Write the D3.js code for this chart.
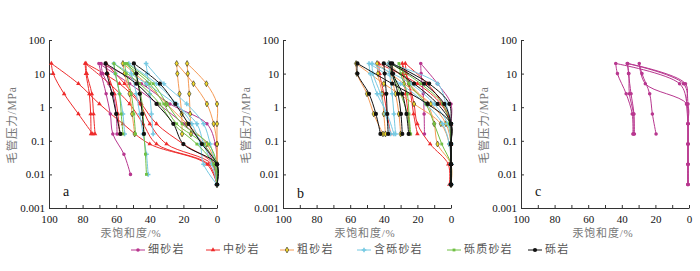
<!DOCTYPE html>
<html>
<head>
<meta charset="utf-8">
<script src="https://cdn.jsdelivr.net/npm/d3@7"></script>
<style>
  body { margin: 0; background: #fff; }
  svg text { font-family: "Liberation Serif", "DejaVu Serif", "Noto Sans CJK SC", serif; }
</style>
</head>
<body>
<svg id="chart" width="700" height="271"></svg>
<script>
// rock types in legend order, with their colours
const rockTypes = ["细砂岩", "中砂岩", "粗砂岩", "含砾砂岩", "砾质砂岩", "砾岩"];
const rockColors = ["#b8378f", "#ee2b2b", "#f59a55", "#76c9e2", "#70c044", "#111111"];

// pressure steps (MPa) of the injection and the withdrawal curves
const injP = [20, 5, 1.25, 0.32, 0.08, 0.02, 0.005];
const wdP = [20, 10, 2.5, 0.63, 0.16, 0.08, 0.04, 0.02, 0.01];

const yTicks = [100, 10, 1, 0.1, 0.01, 0.001];
const xTicks = [100, 80, 60, 40, 20, 0];
const panelNames = ["a", "b", "c"];

// each sample: rock, saturation % at injP, saturation % at wdP (null = no point)
const panelA = [
    ["中砂岩", [98.6, 82.5, 70, 56, 40, 6, 0], [98.6, 97.5, 91, 82.5, 74]],
    ["中砂岩", [78.5, 64, 52, 44, 36, 5, 0], [78.5, 78, 76, 75.2, 75]],
    ["中砂岩", [78, 58, 46, 40, 30, 3, 0], [78, 77.5, 74.5, 73.5, 72.6]],
    ["中砂岩", [66, 55, 45, 36, 20, 2, 0], [66, 65, 61, 59, 58]],
    ["细砂岩", [70.3, 52, 35, 20, 8, 2, 0], [70.3, 69, 66, 63.5, 62, null, 55.4, null, 51.5]],
    ["细砂岩", [69, 45, 28, 6, 1, 0, 0], [69, 68, 62, 60, 59.5]],
    ["粗砂岩", [24, 14, 6, 2, 0, 0, 0], [24, 23.6, 22.3, 21, 20.8]],
    ["粗砂岩", [17.8, 6.3, 0, 0, 0, 0, 0], [17.8, 17.4, 16.5, 16, 15.5]],
    ["粗砂岩", [56, 42, 30, 18, 6, 1, 0], [56, 55, 52, 50.5, 49]],
    ["含砾砂岩", [42.2, 31.6, 18, 8, 4, 1, 0], [42.2, 41.5, 40, 39, 38]],
    ["含砾砂岩", [61.4, 42, 25, 12, 8, 3, 0], [61.4, 60.5, 58, 56, 55]],
    ["含砾砂岩", [52.5, 36, 24, 15, 10, 8, 0], [52.5, 51, 48, 46, 44, null, 42, null, 41]],
    ["砾质砂岩", [61.4, 46, 34, 26, 12, 2, 0], [61.4, 60.5, 58, 57, 56]],
    ["砾质砂岩", [55, 40, 31.7, 24, 8, 1, 0], [55, 54, 51, 49.5, 48.5]],
    ["砾质砂岩", [53.5, 38, 29.7, 20.8, 5, 0, 0], [53.5, 49, 45.5, 44, 43.5, null, 42.6, null, 42]],
    ["砾岩", [66.3, 48, 36, 26, 20, 0, 0], [66.3, 65.5, 62.5, 60, 57.5]],
    ["砾岩", [49.5, 34, 24.8, 17, 9, 0, 0], [49.5, 48, 46, 44.5, 43.5]]
];

const panelB = [
    ["中砂岩", [27.2, 14, 5, 0, 0, 0, 0], [27.2, 26.5, 24, 22.3, 20]],
    ["中砂岩", [29, 25, 22, 20, 12.4, 1.6, 1.0], [29, 28.5, 27, 25.5, 24.5]],
    ["中砂岩", [43, 20, 6, 0, 0, 0, 0], [43, 42.5, 40, 38, 36]],
    ["细砂岩", [18, 8, 0, 0, 0, 0, 0], [18, 17.8, 16.5, 16, 15.8]],
    ["粗砂岩", [56.5, 40, 22, 6, 1, 0, 0], [56.5, 56, 50, 46, 40.5]],
    ["粗砂岩", [44, 28, 12, 3, 0, 0, 0], [44, 43.5, 41, 40, 39]],
    ["粗砂岩", [37, 25, 14, 10, 8, 0, 0], [37, 36, 33, 31, 30]],
    ["含砾砂岩", [48.8, 30, 15, 5, 1, 0, 0], [48.8, 48, 44, 38, 34]],
    ["含砾砂岩", [47, 24, 10, 2, 0, 0, 0], [47, 46.5, 42, 39, 36]],
    ["含砾砂岩", [37, 8, 3, 0, 0, 0, 0], [37, 36.5, 35, 34, 33]],
    ["砾质砂岩", [36, 18, 5, 1, 0, 0, 0], [36, 35, 30, 26, 24.5]],
    ["砾质砂岩", [31, 25, 15, 10, 5.5, 0, 0], [31, 30, 26, 25, 24]],
    ["砾岩", [55.7, 35, 14, 0, 0, 0, 0], [55.7, 55.7, 48.8, 44.7, 42]],
    ["砾岩", [40, 22, 8, 0, 0, 0, 0], [40, 39.5, 38.5, 38, 37.4]],
    ["砾岩", [36, 16, 4, 0, 0, 0, 0], [36, 35, 31.5, 29.8, 29]],
    ["砾岩", [35, 13, 1, 0, 0, 0, 0], [35, 34.5, 29, 26.5, 25.2]]
];

const panelC = [
    ["细砂岩", [43.6, 5.6, 1.2, 0.6, 0.6, 0.6, 0.6], [43.6, 42.6, 37.4, 33.8, 33.4]],
    ["细砂岩", [36.8, 3.3, 0.6, 0.6, 0.6, 0.6, 0.6], [36.8, 35.8, 35.5, 33, 32.5]],
    ["细砂岩", [36.5, 2.1, 1.5, 0.6, 0.6, 0.6, 0.6], [36.5, 36, 34.5, 32.8, 33]],
    ["细砂岩", [29.6, 26, 1.3, 0.6, 0.6, 0.6, 0.6], [29.6, 28, 23.4, 21.8, 19.6]]
];

const panels = [panelA, panelB, panelC];
const panelLeft = [49, 283, 521];
const plotW = 168;
const plotTop = 40, plotBottom = 208;

const svg = d3.select("#chart");
const color = d3.scaleOrdinal().domain(rockTypes).range(rockColors);
const symbolOf = d3.scaleOrdinal().domain(rockTypes)
    .range([d3.symbolCircle, d3.symbolTriangle, d3.symbolDiamond, d3.symbolCross, d3.symbolSquare, d3.symbolCircle]);
const sizeOf = d3.scaleOrdinal().domain(rockTypes).range([10, 9, 10, 12, 8, 14]);

// draw one marker shape for a rock type
function marker(sel, rock) {
    sel.attr("d", d3.symbol().type(symbolOf(rock)).size(sizeOf(rock)))
        .attr("fill", rock === "粗砂岩" ? "#f3dc2a" : color(rock))
        .attr("stroke", rock === "粗砂岩" ? "#222" : "none")
        .attr("stroke-width", 0.6);
}

panels.forEach((samples, pi) => {
    const left = panelLeft[pi];
    const x = d3.scaleLinear().domain([100, 0]).range([left, left + plotW]);
    const y = d3.scaleLog().domain([0.001, 100]).range([plotBottom, plotTop]);
    const g = svg.append("g");

    // axes
    const yAxis = g.append("g")
        .attr("transform", `translate(${left},0)`)
        .call(d3.axisLeft(y).tickValues(yTicks).tickFormat(d => String(d)).tickSizeInner(-3).tickSizeOuter(0).tickPadding(4));
    const xAxis = g.append("g")
        .attr("transform", `translate(0,${plotBottom})`)
        .call(d3.axisBottom(x).tickValues(d3.range(0, 101, 10)).tickFormat(d => xTicks.includes(d) ? d : "")
            .tickSizeInner(-3).tickSizeOuter(0).tickPadding(7));
    [yAxis, xAxis].forEach(a => {
        a.select(".domain").attr("stroke", "#333");
        a.selectAll(".tick line").attr("stroke", "#333");
        a.selectAll("text").attr("font-size", 11).attr("fill", "#111")
            .attr("font-family", "'Liberation Serif', serif");
    });

    // axis titles
    g.append("text")
        .attr("transform", `translate(${left - 36},${(plotTop + plotBottom) / 2 + 1}) rotate(-90)`)
        .attr("text-anchor", "middle").attr("dominant-baseline", "middle")
        .attr("font-size", 11.5).attr("fill", "#777").attr("letter-spacing", 0.8)
        .text("毛管压力/MPa");
    g.append("text")
        .attr("x", left + plotW / 2 - 2).attr("y", 237)
        .attr("text-anchor", "middle")
        .attr("font-size", 11).attr("fill", "#777").attr("letter-spacing", 0.8)
        .text("汞饱和度/%");

    // panel letter
    g.append("text")
        .attr("x", left + 14).attr("y", pi === 1 ? 198 : 196)
        .attr("font-size", 14).attr("fill", "#111")
        .text(panelNames[pi]);

    const line = d3.line()
        .x(d => x(d[0])).y(d => y(d[1]))
        .curve(d3.curveCatmullRom.alpha(0.5));

    samples.forEach(([rock, inj, wd]) => {
        const injPts = inj.map((s, i) => [s, injP[i]]).filter(d => d[0] != null);
        const wdPts = wd.map((s, i) => [s, wdP[i]]).filter(d => d[0] != null);
        const sg = g.append("g");
        [injPts, wdPts].forEach(pts => {
            sg.append("path")
                .attr("d", line(pts))
                .attr("fill", "none")
                .attr("stroke", color(rock))
                .attr("stroke-width", 1);
        });
        sg.selectAll("path.m")
            .data(injPts.concat(wdPts.slice(1)))
            .join("path")
            .attr("class", "m")
            .attr("transform", d => `translate(${x(d[0])},${y(d[1])})`)
            .call(marker, rock);
    });
});

// legend
const legendX = [131, 206, 280, 357, 447, 528];
const legend = svg.append("g").selectAll("g")
    .data(rockTypes)
    .join("g")
    .attr("transform", (d, i) => `translate(${legendX[i]},250)`);
legend.append("line")
    .attr("x1", 0).attr("x2", 14)
    .attr("stroke", d => color(d)).attr("stroke-width", 1);
legend.append("path")
    .attr("transform", "translate(7,0)")
    .each(function (d) { d3.select(this).call(marker, d); });
legend.append("text")
    .attr("x", 17).attr("y", 0.5)
    .attr("dominant-baseline", "middle")
    .attr("font-size", 11).attr("fill", "#555").attr("letter-spacing", 1.2)
    .text(d => d);
</script>
</body>
</html>
